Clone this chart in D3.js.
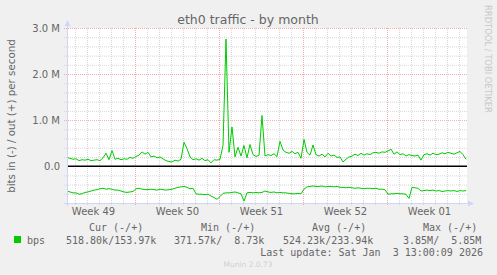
<!DOCTYPE html>
<html>
<head>
<meta charset="utf-8">
<script src="https://cdn.jsdelivr.net/npm/d3@7"></script>
<style>
  body { margin: 0; background: #f0f0f0; }
  text { font-family: "DejaVu Sans", sans-serif; fill: #666; }
  .mono { font-family: "DejaVu Sans Mono", monospace; white-space: pre; }
</style>
</head>
<body>
<div id="chart"></div>
<script>
// --- data (Mbit/s, one sample every 6 hours, starting 2025-12-02 08:00) ---
const startTime = new Date(Date.UTC(2025, 11, 2, 8));
const stepHours = 6;

// out (+)
const outValues = [
  0.19, 0.17, 0.15, 0.16, 0.12, 0.14, 0.13, 0.15, 0.12, 0.13,
  0.14, 0.12, 0.18, 0.28, 0.14, 0.34, 0.15, 0.17, 0.14, 0.16,
  0.15, 0.19, 0.17, 0.21, 0.24, 0.31, 0.26, 0.30, 0.20, 0.22,
  0.18, 0.20, 0.16, 0.12, 0.10, 0.09, 0.13, 0.11, 0.15, 0.52,
  0.38, 0.20, 0.14, 0.16, 0.13, 0.17, 0.12, 0.14, 0.07, 0.14,
  0.13, 0.15, 0.45, 2.76, 0.30, 0.85, 0.20, 0.41, 0.22, 0.45,
  0.18, 0.47, 0.25, 0.21, 0.24, 1.10, 0.22, 0.25, 0.23, 0.27,
  0.21, 0.54, 0.35, 0.30, 0.28, 0.32, 0.27, 0.30, 0.17, 0.58,
  0.30, 0.24, 0.46, 0.25, 0.22, 0.26, 0.20, 0.28, 0.22, 0.24,
  0.19, 0.20, 0.09, 0.15, 0.20, 0.22, 0.26, 0.23, 0.28, 0.24,
  0.27, 0.25, 0.29, 0.30, 0.28, 0.31, 0.30, 0.33, 0.37, 0.26,
  0.31, 0.25, 0.27, 0.22, 0.25, 0.23, 0.22, 0.24, 0.13, 0.25,
  0.27, 0.24, 0.28, 0.25, 0.26, 0.29, 0.27, 0.30, 0.28, 0.26,
  0.29, 0.32, 0.25, 0.15
];

// in (-), drawn below zero
const inValues = [
  0.54, 0.56, 0.58, 0.58, 0.61, 0.60, 0.57, 0.56, 0.54, 0.52,
  0.51, 0.49, 0.48, 0.50, 0.49, 0.50, 0.52, 0.52, 0.54, 0.56,
  0.57, 0.56, 0.55, 0.49, 0.48, 0.50, 0.51, 0.51, 0.50, 0.51,
  0.52, 0.50, 0.51, 0.52, 0.51, 0.50, 0.48, 0.46, 0.45, 0.44,
  0.46, 0.49, 0.48, 0.60, 0.61, 0.61, 0.62, 0.61, 0.65, 0.68,
  0.72, 0.66, 0.59, 0.58, 0.58, 0.57, 0.56, 0.58, 0.60, 0.76,
  0.58, 0.57, 0.58, 0.57, 0.58, 0.57, 0.54, 0.56, 0.57, 0.56,
  0.58, 0.57, 0.58, 0.58, 0.59, 0.60, 0.60, 0.59, 0.60, 0.50,
  0.45, 0.44, 0.43, 0.44, 0.44, 0.43, 0.45, 0.44, 0.44, 0.45,
  0.44, 0.46, 0.46, 0.47, 0.46, 0.47, 0.48, 0.47, 0.48, 0.49,
  0.48, 0.48, 0.49, 0.48, 0.50, 0.50, 0.51, 0.61, 0.60, 0.60,
  0.59, 0.60, 0.60, 0.61, 0.70, 0.46, 0.47, 0.48, 0.54, 0.53,
  0.52, 0.53, 0.52, 0.54, 0.53, 0.55, 0.54, 0.53, 0.54, 0.53,
  0.55, 0.53, 0.54, 0.53
];

const yTickValues = [0, 1, 2, 3];
const yTickLabels = ["0.0", "1.0 M", "2.0 M", "3.0 M"];
const weekStarts = [
  new Date(Date.UTC(2025, 11, 1)), new Date(Date.UTC(2025, 11, 8)),
  new Date(Date.UTC(2025, 11, 15)), new Date(Date.UTC(2025, 11, 22)),
  new Date(Date.UTC(2025, 11, 29))
];
const weekLabels = ["Week 49", "Week 50", "Week 51", "Week 52", "Week 01"];

const legendHeaders = ["Cur (-/+)", "Min (-/+)", "Avg (-/+)", "Max (-/+)"];
const legendValues = ["518.80k/153.97k", "371.57k/  8.73k", "524.23k/233.94k", "  3.85M/  5.85M"];

// --- layout ---
const W = 497, H = 275;
const plot = { left: 67, right: 467, top: 28, bottom: 203 };

const svg = d3.select("#chart").append("svg")
  .attr("width", W).attr("height", H);

svg.append("rect").attr("width", W).attr("height", H).attr("fill", "#f0f0f0");

const endTime = d3.utcHour.offset(startTime, 800);
const x = d3.scaleUtc().domain([startTime, endTime]).range([plot.left, plot.right]);
const y = d3.scaleLinear().domain([-0.8, 3.0]).range([plot.bottom, plot.top]);

svg.append("rect")
  .attr("x", plot.left).attr("y", plot.top)
  .attr("width", plot.right - plot.left).attr("height", plot.bottom - plot.top)
  .attr("fill", "#fff");

// grid
const minorY = d3.range(-0.8, 3.0001, 0.2).map(v => +v.toFixed(1)).filter(v => !Number.isInteger(v));
const days = d3.utcDay.range(startTime, endTime).filter(d => d.getUTCDay() !== 1);
const mondays = weekStarts.filter(d => d >= startTime);
const minorColor = "#d8d8d8", majorColor = "#f3aaaa";

const grid = svg.append("g");
grid.selectAll(".hminor").data(minorY).join("line")
  .attr("x1", plot.left - 3).attr("x2", plot.right)
  .attr("y1", d => y(d) + 0.5).attr("y2", d => y(d) + 0.5)
  .attr("stroke", minorColor).attr("stroke-dasharray", "1,1");
grid.selectAll(".vminor").data(days).join("line")
  .attr("x1", d => Math.round(x(d)) + 0.5).attr("x2", d => Math.round(x(d)) + 0.5)
  .attr("y1", plot.top).attr("y2", plot.bottom + 2)
  .attr("stroke", minorColor).attr("stroke-dasharray", "1,1");
grid.selectAll(".hmajor").data(yTickValues.filter(v => v !== 0)).join("line")
  .attr("x1", plot.left - 3).attr("x2", plot.right)
  .attr("y1", d => y(d) + 0.5).attr("y2", d => y(d) + 0.5)
  .attr("stroke", majorColor).attr("stroke-dasharray", "1,1");
grid.selectAll(".vmajor").data(mondays).join("line")
  .attr("x1", d => Math.round(x(d)) + 0.5).attr("x2", d => Math.round(x(d)) + 0.5)
  .attr("y1", plot.top).attr("y2", plot.bottom + 3)
  .attr("stroke", majorColor).attr("stroke-dasharray", "1,1");

// series
const times = outValues.map((_, i) => d3.utcHour.offset(startTime, i * stepHours));
const line = d3.line().x(d => x(d[0])).y(d => y(d[1]));

svg.append("path")
  .datum(times.map((t, i) => [t, outValues[i]]))
  .attr("d", line).attr("fill", "none")
  .attr("stroke", "#00cc00").attr("stroke-width", 1);
svg.append("path")
  .datum(times.map((t, i) => [t, -inValues[i]]))
  .attr("d", line).attr("fill", "none")
  .attr("stroke", "#00cc00").attr("stroke-width", 1);

// zero line
svg.append("line")
  .attr("x1", plot.left).attr("x2", plot.right)
  .attr("y1", y(0)).attr("y2", y(0))
  .attr("stroke", "#000").attr("stroke-width", 1.5);

// axes lines + arrows
const axisColor = "#cfd6f8";
svg.append("line").attr("x1", plot.left + 0.5).attr("x2", plot.left + 0.5)
  .attr("y1", plot.bottom + 3).attr("y2", plot.top - 5).attr("stroke", axisColor);
svg.append("line").attr("x1", plot.left - 3).attr("x2", plot.right + 4)
  .attr("y1", plot.bottom + 0.5).attr("y2", plot.bottom + 0.5).attr("stroke", axisColor);
svg.append("path")
  .attr("d", `M${plot.left - 2.5},${plot.top - 2} L${plot.left + 3.5},${plot.top - 2} L${plot.left + 0.5},${plot.top - 8} Z`)
  .attr("fill", axisColor);
svg.append("path")
  .attr("d", `M${plot.right + 1},${plot.bottom - 2.5} L${plot.right + 1},${plot.bottom + 3.5} L${plot.right + 7},${plot.bottom + 0.5} Z`)
  .attr("fill", axisColor);

// y tick labels
const yAxis = svg.append("g")
  .attr("transform", `translate(${plot.left - 3},0)`)
  .call(d3.axisLeft(y).tickValues(yTickValues).tickSize(0).tickPadding(4)
    .tickFormat((d, i) => yTickLabels[i]));
yAxis.select(".domain").remove();
yAxis.selectAll("text").attr("font-size", 10).attr("font-family", "DejaVu Sans").attr("fill", "#666");

// week labels
const weekMids = weekStarts.map(d => d3.utcHour.offset(d, 84));
const xAxis = svg.append("g")
  .attr("transform", `translate(0,${plot.bottom})`)
  .call(d3.axisBottom(x).tickValues(weekMids).tickSize(0).tickPadding(5)
    .tickFormat((d, i) => weekLabels[i]));
xAxis.select(".domain").remove();
xAxis.selectAll("text").attr("font-size", 10).attr("font-family", "DejaVu Sans").attr("fill", "#666");

// title
svg.append("text")
  .attr("x", 248).attr("y", 23.5)
  .attr("text-anchor", "middle").attr("font-size", 12.5)
  .text("eth0 traffic - by month");

// y label
svg.append("text")
  .attr("transform", "translate(14.5,116) rotate(-90)")
  .attr("text-anchor", "middle").attr("font-size", 10.3)
  .text("bits in (-) / out (+) per second");

// watermark
svg.append("text")
  .attr("transform", "translate(485,5) rotate(90)")
  .attr("font-size", 8.4).style("fill", "#c8c8c8")
  .text("RRDTOOL / TOBI OETIKER");

// legend
const colX = [89, 201, 312, 423];
const valX = [66, 174, 283, 391];
svg.append("rect").attr("x", 14).attr("y", 236).attr("width", 7).attr("height", 7).attr("fill", "#00cc00");
svg.append("text").attr("class", "mono").attr("x", 27).attr("y", 243.5).attr("font-size", 10).text("bps");
legendHeaders.forEach((h, i) => {
  svg.append("text").attr("class", "mono").attr("x", colX[i]).attr("y", 231)
    .attr("font-size", 10).text(h);
  svg.append("text").attr("class", "mono").attr("x", valX[i]).attr("y", 243.5)
    .attr("font-size", 10).text(legendValues[i]);
});
svg.append("text").attr("class", "mono").attr("x", 483).attr("y", 255.5)
  .attr("text-anchor", "end").attr("font-size", 10)
  .text("Last update: Sat Jan  3 13:00:09 2026");
svg.append("text")
  .attr("x", 248).attr("y", 267).attr("text-anchor", "middle")
  .attr("font-size", 7.5).style("fill", "#d0d0d0")
  .text("Munin 2.0.73");
</script>
</body>
</html>
